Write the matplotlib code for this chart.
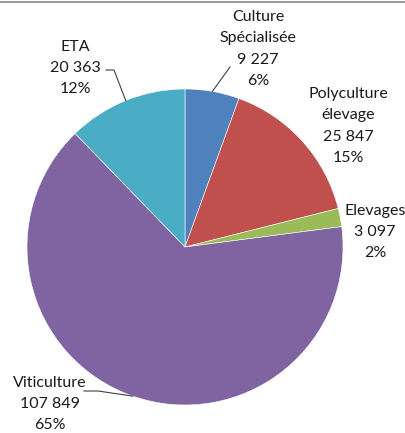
import numpy as np
import matplotlib
matplotlib.use("Agg")
import matplotlib.pyplot as plt
from matplotlib.lines import Line2D

categories = ["Culture\nSpécialisée", "Polyculture\nélevage", "Elevages", "Viticulture", "ETA"]
values = [9227, 25847, 3097, 107849, 20363]
value_labels = ["9 227", "25 847", "3 097", "107 849", "20 363"]
pct_labels = ["6%", "15%", "2%", "65%", "12%"]
colors = ["#4F81BD", "#C0504D", "#9BBB59", "#8064A2", "#4BACC6"]

W, H = 406, 433
cx, cy, R = 185, 247, 158

fig = plt.figure(figsize=(W / 100, H / 100), dpi=100)
ax = fig.add_axes([0, 0, 1, 1])
ax.pie(values, colors=colors, startangle=90, counterclock=False, radius=1,
       center=(0, 0), wedgeprops=dict(edgecolor="white", linewidth=0.4))
ax.set_xlim(-cx / R, (W - cx) / R)
ax.set_ylim((cy - H) / R, cy / R)
ax.set_aspect("auto")
ax.axis("off")

def d(px, py):
    return ((px - cx) / R, (cy - py) / R)

# label positions (pixel centres of text block)
label_pos = [(258, 49), (348, 126), (375, 232), (50, 404), (75, 68)]
leader = {0: (230, 67), 3: (84, 391), 4: (106, 70)}
elbow = {0: None, 3: (98, 391), 4: (114, 70)}

total = sum(values)
cum = 0
for i, v in enumerate(values):
    mid = cum + v / 2
    cum += v
    ang = np.deg2rad(90 - 360 * mid / total)
    tx, ty = d(*label_pos[i])
    txt = f"{categories[i]}\n{value_labels[i]}\n{pct_labels[i]}"
    ax.text(tx, ty, txt, ha="center", va="center", fontsize=11.5,
            family="Lato", color="#1a1a1a", linespacing=1.68)
    if i in leader:
        ex, ey = np.cos(ang), np.sin(ang)
        pts = [d(*leader[i])]
        if elbow[i] is not None:
            pts.append(d(*elbow[i]))
        pts.append((ex, ey))
        xs, ys = zip(*pts)
        ax.plot(xs, ys, color="#404040", lw=0.8)

fig.add_artist(Line2D([0, 1], [1 - 1.5 / H, 1 - 1.5 / H], color="#888888", lw=1.2,
                      transform=fig.transFigure))
fig.savefig("out.png", dpi=100)
